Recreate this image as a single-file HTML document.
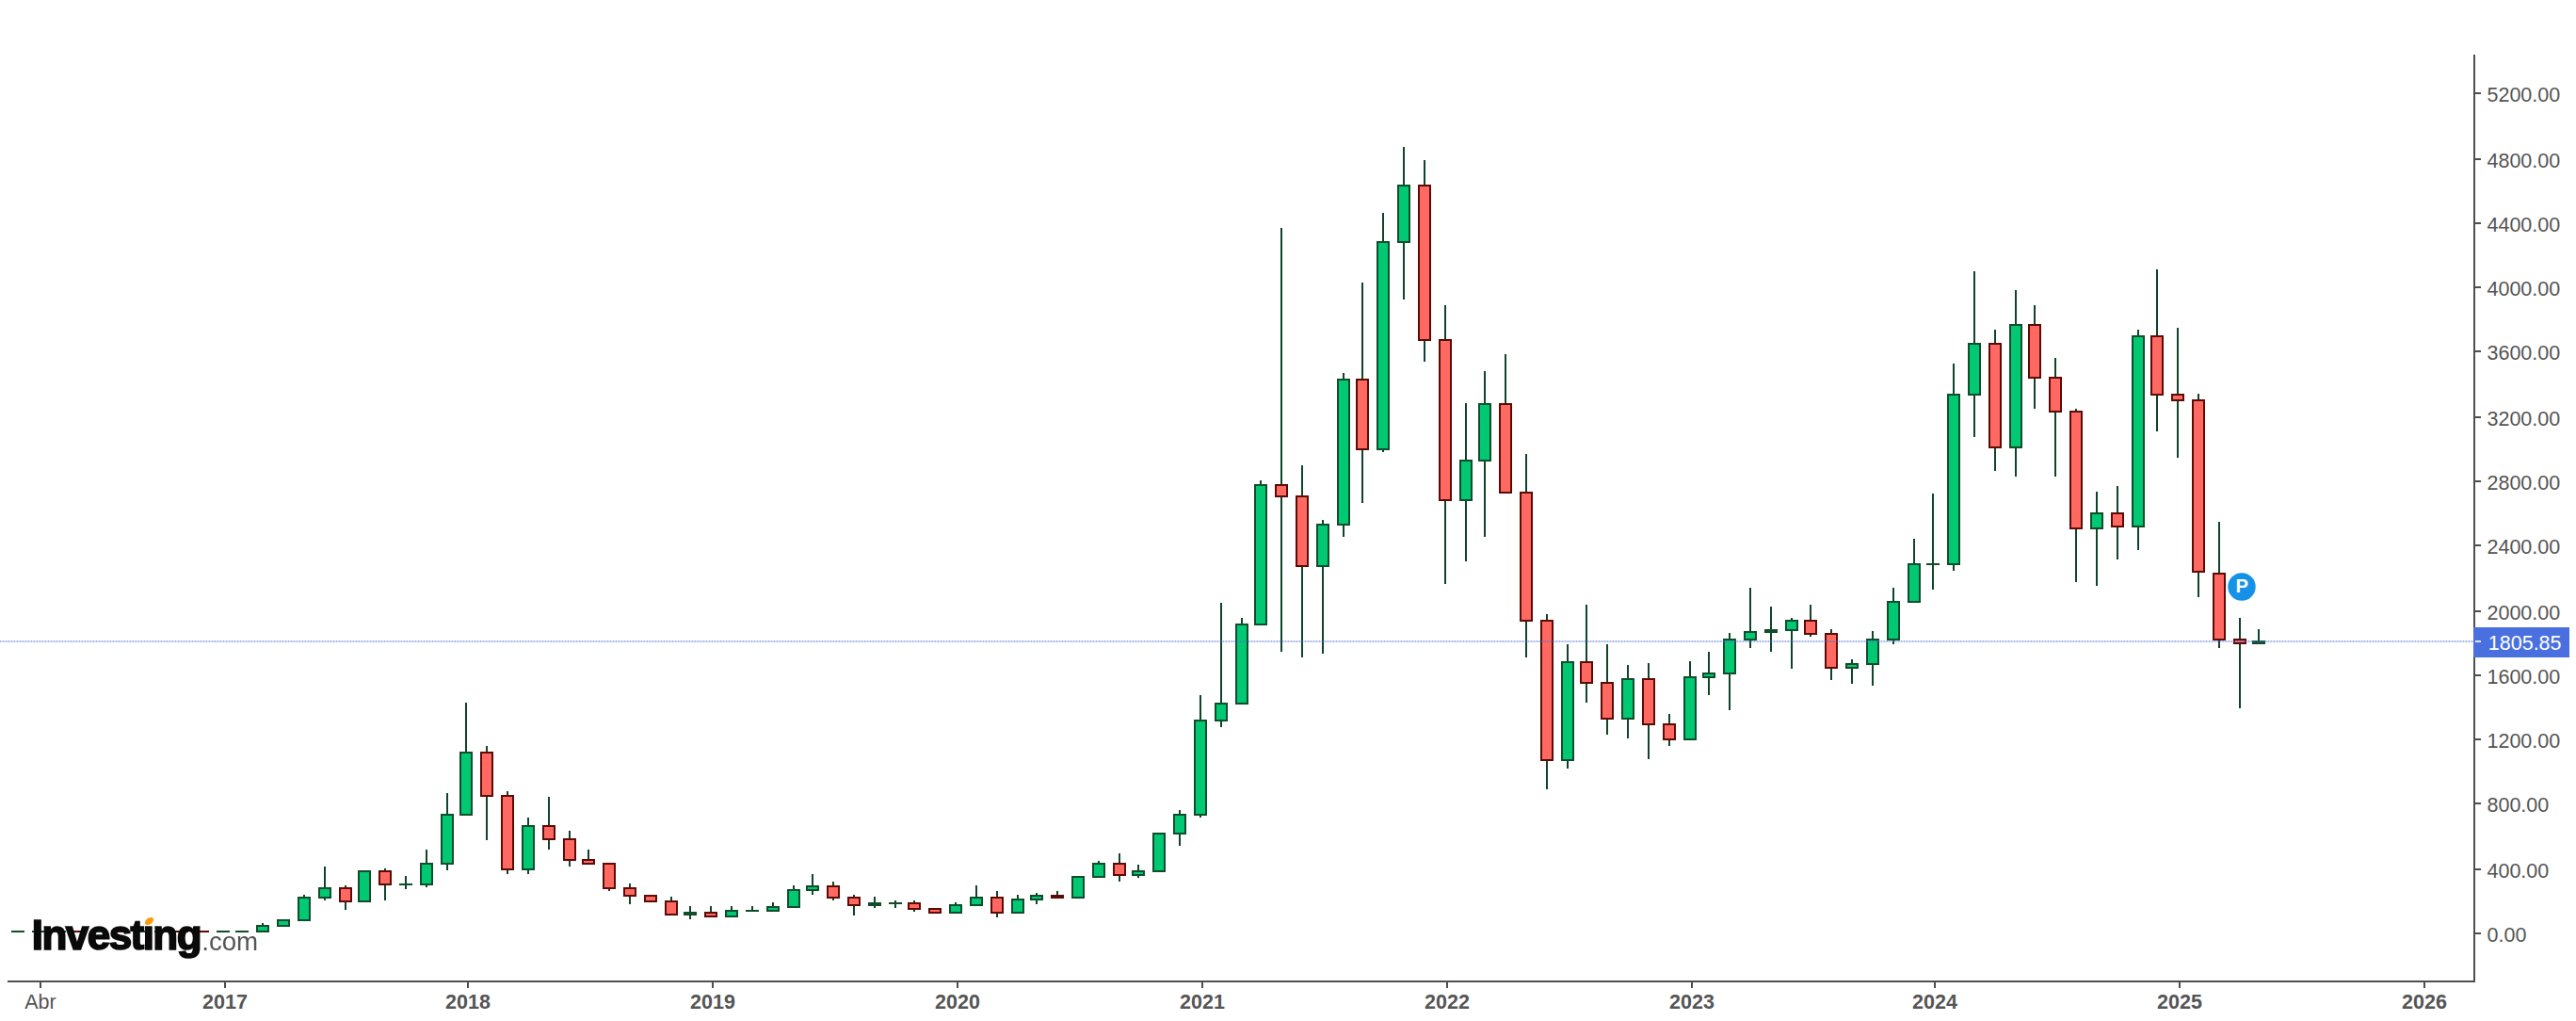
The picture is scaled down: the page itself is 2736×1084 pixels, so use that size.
<!DOCTYPE html>
<html lang="es"><head><meta charset="utf-8"><title>Chart</title>
<style>
html,body{margin:0;padding:0;background:#fff;}
body{width:2736px;height:1084px;overflow:hidden;position:relative;}
svg{position:absolute;left:0;top:0;display:block}
.lbl text{font-family:"Liberation Sans",Arial,sans-serif;font-size:21.5px;fill:#555555;}
#logo{position:absolute;left:33.8px;top:971px;transform:scaleX(1.0);transform-origin:0 0;white-space:nowrap;font-family:"Liberation Sans",Arial,sans-serif;line-height:1;filter:blur(0.7px);}
#logo .a{font-weight:bold;font-size:44px;color:#0a0a0a;letter-spacing:-1.55px;-webkit-text-stroke:1.7px #0a0a0a;}
#logo .b{font-size:27.7px;color:#555;letter-spacing:0;margin-left:1.2px;position:relative;top:0.6px}
#dotw{position:absolute;left:151.5px;top:972px;width:13px;height:10px;background:#fff}
#dot{position:absolute;left:153.5px;top:973.8px;width:9px;height:8.2px;background:#ff9a0a;border-radius:70% 25% 70% 25%;filter:blur(0.6px)}
</style></head><body>
<svg width="2736" height="1084" viewBox="0 0 2736 1084" shape-rendering="crispEdges">
<rect width="2736" height="1084" fill="#ffffff"/>
<g id="candles">
<rect x="12" y="988" width="14" height="2" fill="#0f4d2b"/>
<rect x="34" y="988" width="14" height="2" fill="#0f4d2b"/>
<rect x="56" y="988" width="14" height="2" fill="#0f4d2b"/>
<rect x="78" y="988" width="14" height="2" fill="#5c0b06"/>
<rect x="100" y="988" width="14" height="2" fill="#0f4d2b"/>
<rect x="122" y="988" width="14" height="2" fill="#5c0b06"/>
<rect x="142" y="988" width="14" height="2" fill="#0f4d2b"/>
<rect x="164" y="988" width="14" height="2" fill="#0f4d2b"/>
<rect x="186" y="988" width="14" height="2" fill="#5c0b06"/>
<rect x="208" y="988" width="14" height="2" fill="#5c0b06"/>
<rect x="230" y="988" width="14" height="2" fill="#0f4d2b"/>
<rect x="250" y="988" width="14" height="2" fill="#0f4d2b"/>
<rect x="278" y="980" width="2" height="10" fill="#10442a"/>
<rect x="272" y="982" width="14" height="8" fill="#0f4d2b"/>
<rect x="274" y="984" width="10" height="4" fill="#00c873"/>
<rect x="294" y="976" width="14" height="8" fill="#0f4d2b"/>
<rect x="296" y="978" width="10" height="4" fill="#00c873"/>
<rect x="322" y="950" width="2" height="28" fill="#10442a"/>
<rect x="316" y="952" width="14" height="26" fill="#0f4d2b"/>
<rect x="318" y="954" width="10" height="22" fill="#00c873"/>
<rect x="344" y="920" width="2" height="36" fill="#10442a"/>
<rect x="338" y="942" width="14" height="12" fill="#0f4d2b"/>
<rect x="340" y="944" width="10" height="8" fill="#00c873"/>
<rect x="366" y="940" width="2" height="26" fill="#10442a"/>
<rect x="360" y="942" width="14" height="16" fill="#5c0b06"/>
<rect x="362" y="944" width="10" height="12" fill="#ff6961"/>
<rect x="380" y="924" width="14" height="34" fill="#0f4d2b"/>
<rect x="382" y="926" width="10" height="30" fill="#00c873"/>
<rect x="408" y="922" width="2" height="34" fill="#10442a"/>
<rect x="402" y="924" width="14" height="16" fill="#5c0b06"/>
<rect x="404" y="926" width="10" height="12" fill="#ff6961"/>
<rect x="430" y="930" width="2" height="14" fill="#10442a"/>
<rect x="424" y="938" width="14" height="2" fill="#0f4d2b"/>
<rect x="452" y="902" width="2" height="40" fill="#10442a"/>
<rect x="446" y="916" width="14" height="24" fill="#0f4d2b"/>
<rect x="448" y="918" width="10" height="20" fill="#00c873"/>
<rect x="474" y="842" width="2" height="82" fill="#10442a"/>
<rect x="468" y="864" width="14" height="54" fill="#0f4d2b"/>
<rect x="470" y="866" width="10" height="50" fill="#00c873"/>
<rect x="494" y="746" width="2" height="120" fill="#10442a"/>
<rect x="488" y="798" width="14" height="68" fill="#0f4d2b"/>
<rect x="490" y="800" width="10" height="64" fill="#00c873"/>
<rect x="516" y="792" width="2" height="100" fill="#10442a"/>
<rect x="510" y="798" width="14" height="48" fill="#5c0b06"/>
<rect x="512" y="800" width="10" height="44" fill="#ff6961"/>
<rect x="538" y="840" width="2" height="88" fill="#10442a"/>
<rect x="532" y="844" width="14" height="80" fill="#5c0b06"/>
<rect x="534" y="846" width="10" height="76" fill="#ff6961"/>
<rect x="560" y="868" width="2" height="60" fill="#10442a"/>
<rect x="554" y="876" width="14" height="48" fill="#0f4d2b"/>
<rect x="556" y="878" width="10" height="44" fill="#00c873"/>
<rect x="582" y="846" width="2" height="56" fill="#10442a"/>
<rect x="576" y="876" width="14" height="16" fill="#5c0b06"/>
<rect x="578" y="878" width="10" height="12" fill="#ff6961"/>
<rect x="604" y="882" width="2" height="38" fill="#10442a"/>
<rect x="598" y="890" width="14" height="24" fill="#5c0b06"/>
<rect x="600" y="892" width="10" height="20" fill="#ff6961"/>
<rect x="624" y="902" width="2" height="16" fill="#10442a"/>
<rect x="618" y="912" width="14" height="6" fill="#5c0b06"/>
<rect x="620" y="914" width="10" height="2" fill="#ff6961"/>
<rect x="646" y="916" width="2" height="30" fill="#10442a"/>
<rect x="640" y="916" width="14" height="28" fill="#5c0b06"/>
<rect x="642" y="918" width="10" height="24" fill="#ff6961"/>
<rect x="668" y="938" width="2" height="22" fill="#10442a"/>
<rect x="662" y="942" width="14" height="10" fill="#5c0b06"/>
<rect x="664" y="944" width="10" height="6" fill="#ff6961"/>
<rect x="684" y="950" width="14" height="8" fill="#5c0b06"/>
<rect x="686" y="952" width="10" height="4" fill="#ff6961"/>
<rect x="712" y="952" width="2" height="20" fill="#10442a"/>
<rect x="706" y="956" width="14" height="16" fill="#5c0b06"/>
<rect x="708" y="958" width="10" height="12" fill="#ff6961"/>
<rect x="732" y="962" width="2" height="14" fill="#10442a"/>
<rect x="726" y="968" width="14" height="4" fill="#0f4d2b"/>
<rect x="754" y="962" width="2" height="12" fill="#10442a"/>
<rect x="748" y="968" width="14" height="6" fill="#5c0b06"/>
<rect x="750" y="970" width="10" height="2" fill="#ff6961"/>
<rect x="776" y="962" width="2" height="12" fill="#10442a"/>
<rect x="770" y="966" width="14" height="8" fill="#0f4d2b"/>
<rect x="772" y="968" width="10" height="4" fill="#00c873"/>
<rect x="798" y="962" width="2" height="6" fill="#10442a"/>
<rect x="792" y="966" width="14" height="2" fill="#0f4d2b"/>
<rect x="820" y="958" width="2" height="10" fill="#10442a"/>
<rect x="814" y="962" width="14" height="6" fill="#0f4d2b"/>
<rect x="816" y="964" width="10" height="2" fill="#00c873"/>
<rect x="842" y="940" width="2" height="24" fill="#10442a"/>
<rect x="836" y="944" width="14" height="20" fill="#0f4d2b"/>
<rect x="838" y="946" width="10" height="16" fill="#00c873"/>
<rect x="862" y="928" width="2" height="22" fill="#10442a"/>
<rect x="856" y="940" width="14" height="6" fill="#0f4d2b"/>
<rect x="858" y="942" width="10" height="2" fill="#00c873"/>
<rect x="884" y="936" width="2" height="20" fill="#10442a"/>
<rect x="878" y="940" width="14" height="14" fill="#5c0b06"/>
<rect x="880" y="942" width="10" height="10" fill="#ff6961"/>
<rect x="906" y="950" width="2" height="22" fill="#10442a"/>
<rect x="900" y="952" width="14" height="10" fill="#5c0b06"/>
<rect x="902" y="954" width="10" height="6" fill="#ff6961"/>
<rect x="928" y="952" width="2" height="12" fill="#10442a"/>
<rect x="922" y="958" width="14" height="4" fill="#0f4d2b"/>
<rect x="950" y="956" width="2" height="8" fill="#10442a"/>
<rect x="944" y="958" width="14" height="2" fill="#0f4d2b"/>
<rect x="970" y="956" width="2" height="12" fill="#10442a"/>
<rect x="964" y="958" width="14" height="8" fill="#5c0b06"/>
<rect x="966" y="960" width="10" height="4" fill="#ff6961"/>
<rect x="986" y="964" width="14" height="6" fill="#5c0b06"/>
<rect x="988" y="966" width="10" height="2" fill="#ff6961"/>
<rect x="1014" y="958" width="2" height="12" fill="#10442a"/>
<rect x="1008" y="960" width="14" height="10" fill="#0f4d2b"/>
<rect x="1010" y="962" width="10" height="6" fill="#00c873"/>
<rect x="1036" y="940" width="2" height="22" fill="#10442a"/>
<rect x="1030" y="952" width="14" height="10" fill="#0f4d2b"/>
<rect x="1032" y="954" width="10" height="6" fill="#00c873"/>
<rect x="1058" y="946" width="2" height="28" fill="#10442a"/>
<rect x="1052" y="952" width="14" height="18" fill="#5c0b06"/>
<rect x="1054" y="954" width="10" height="14" fill="#ff6961"/>
<rect x="1080" y="950" width="2" height="20" fill="#10442a"/>
<rect x="1074" y="954" width="14" height="16" fill="#0f4d2b"/>
<rect x="1076" y="956" width="10" height="12" fill="#00c873"/>
<rect x="1100" y="948" width="2" height="12" fill="#10442a"/>
<rect x="1094" y="950" width="14" height="6" fill="#0f4d2b"/>
<rect x="1096" y="952" width="10" height="2" fill="#00c873"/>
<rect x="1122" y="946" width="2" height="8" fill="#10442a"/>
<rect x="1116" y="950" width="14" height="4" fill="#5c0b06"/>
<rect x="1138" y="930" width="14" height="24" fill="#0f4d2b"/>
<rect x="1140" y="932" width="10" height="20" fill="#00c873"/>
<rect x="1166" y="914" width="2" height="18" fill="#10442a"/>
<rect x="1160" y="916" width="14" height="16" fill="#0f4d2b"/>
<rect x="1162" y="918" width="10" height="12" fill="#00c873"/>
<rect x="1188" y="906" width="2" height="30" fill="#10442a"/>
<rect x="1182" y="916" width="14" height="14" fill="#5c0b06"/>
<rect x="1184" y="918" width="10" height="10" fill="#ff6961"/>
<rect x="1208" y="918" width="2" height="14" fill="#10442a"/>
<rect x="1202" y="924" width="14" height="6" fill="#0f4d2b"/>
<rect x="1204" y="926" width="10" height="2" fill="#00c873"/>
<rect x="1224" y="884" width="14" height="42" fill="#0f4d2b"/>
<rect x="1226" y="886" width="10" height="38" fill="#00c873"/>
<rect x="1252" y="860" width="2" height="38" fill="#10442a"/>
<rect x="1246" y="864" width="14" height="22" fill="#0f4d2b"/>
<rect x="1248" y="866" width="10" height="18" fill="#00c873"/>
<rect x="1274" y="738" width="2" height="130" fill="#10442a"/>
<rect x="1268" y="764" width="14" height="102" fill="#0f4d2b"/>
<rect x="1270" y="766" width="10" height="98" fill="#00c873"/>
<rect x="1296" y="640" width="2" height="132" fill="#10442a"/>
<rect x="1290" y="746" width="14" height="20" fill="#0f4d2b"/>
<rect x="1292" y="748" width="10" height="16" fill="#00c873"/>
<rect x="1318" y="656" width="2" height="92" fill="#10442a"/>
<rect x="1312" y="662" width="14" height="86" fill="#0f4d2b"/>
<rect x="1314" y="664" width="10" height="82" fill="#00c873"/>
<rect x="1338" y="510" width="2" height="154" fill="#10442a"/>
<rect x="1332" y="514" width="14" height="150" fill="#0f4d2b"/>
<rect x="1334" y="516" width="10" height="146" fill="#00c873"/>
<rect x="1360" y="242" width="2" height="450" fill="#10442a"/>
<rect x="1354" y="514" width="14" height="14" fill="#5c0b06"/>
<rect x="1356" y="516" width="10" height="10" fill="#ff6961"/>
<rect x="1382" y="494" width="2" height="204" fill="#10442a"/>
<rect x="1376" y="526" width="14" height="76" fill="#5c0b06"/>
<rect x="1378" y="528" width="10" height="72" fill="#ff6961"/>
<rect x="1404" y="552" width="2" height="142" fill="#10442a"/>
<rect x="1398" y="556" width="14" height="46" fill="#0f4d2b"/>
<rect x="1400" y="558" width="10" height="42" fill="#00c873"/>
<rect x="1426" y="396" width="2" height="174" fill="#10442a"/>
<rect x="1420" y="402" width="14" height="156" fill="#0f4d2b"/>
<rect x="1422" y="404" width="10" height="152" fill="#00c873"/>
<rect x="1446" y="300" width="2" height="234" fill="#10442a"/>
<rect x="1440" y="402" width="14" height="76" fill="#5c0b06"/>
<rect x="1442" y="404" width="10" height="72" fill="#ff6961"/>
<rect x="1468" y="226" width="2" height="254" fill="#10442a"/>
<rect x="1462" y="256" width="14" height="222" fill="#0f4d2b"/>
<rect x="1464" y="258" width="10" height="218" fill="#00c873"/>
<rect x="1490" y="156" width="2" height="162" fill="#10442a"/>
<rect x="1484" y="196" width="14" height="62" fill="#0f4d2b"/>
<rect x="1486" y="198" width="10" height="58" fill="#00c873"/>
<rect x="1512" y="170" width="2" height="214" fill="#10442a"/>
<rect x="1506" y="196" width="14" height="166" fill="#5c0b06"/>
<rect x="1508" y="198" width="10" height="162" fill="#ff6961"/>
<rect x="1534" y="324" width="2" height="296" fill="#10442a"/>
<rect x="1528" y="360" width="14" height="172" fill="#5c0b06"/>
<rect x="1530" y="362" width="10" height="168" fill="#ff6961"/>
<rect x="1556" y="428" width="2" height="168" fill="#10442a"/>
<rect x="1550" y="488" width="14" height="44" fill="#0f4d2b"/>
<rect x="1552" y="490" width="10" height="40" fill="#00c873"/>
<rect x="1576" y="394" width="2" height="176" fill="#10442a"/>
<rect x="1570" y="428" width="14" height="62" fill="#0f4d2b"/>
<rect x="1572" y="430" width="10" height="58" fill="#00c873"/>
<rect x="1598" y="376" width="2" height="148" fill="#10442a"/>
<rect x="1592" y="428" width="14" height="96" fill="#5c0b06"/>
<rect x="1594" y="430" width="10" height="92" fill="#ff6961"/>
<rect x="1620" y="482" width="2" height="216" fill="#10442a"/>
<rect x="1614" y="522" width="14" height="138" fill="#5c0b06"/>
<rect x="1616" y="524" width="10" height="134" fill="#ff6961"/>
<rect x="1642" y="652" width="2" height="186" fill="#10442a"/>
<rect x="1636" y="658" width="14" height="150" fill="#5c0b06"/>
<rect x="1638" y="660" width="10" height="146" fill="#ff6961"/>
<rect x="1664" y="684" width="2" height="132" fill="#10442a"/>
<rect x="1658" y="702" width="14" height="106" fill="#0f4d2b"/>
<rect x="1660" y="704" width="10" height="102" fill="#00c873"/>
<rect x="1684" y="642" width="2" height="104" fill="#10442a"/>
<rect x="1678" y="702" width="14" height="24" fill="#5c0b06"/>
<rect x="1680" y="704" width="10" height="20" fill="#ff6961"/>
<rect x="1706" y="684" width="2" height="96" fill="#10442a"/>
<rect x="1700" y="724" width="14" height="40" fill="#5c0b06"/>
<rect x="1702" y="726" width="10" height="36" fill="#ff6961"/>
<rect x="1728" y="706" width="2" height="78" fill="#10442a"/>
<rect x="1722" y="720" width="14" height="44" fill="#0f4d2b"/>
<rect x="1724" y="722" width="10" height="40" fill="#00c873"/>
<rect x="1750" y="704" width="2" height="102" fill="#10442a"/>
<rect x="1744" y="720" width="14" height="50" fill="#5c0b06"/>
<rect x="1746" y="722" width="10" height="46" fill="#ff6961"/>
<rect x="1772" y="758" width="2" height="34" fill="#10442a"/>
<rect x="1766" y="768" width="14" height="18" fill="#5c0b06"/>
<rect x="1768" y="770" width="10" height="14" fill="#ff6961"/>
<rect x="1794" y="702" width="2" height="84" fill="#10442a"/>
<rect x="1788" y="718" width="14" height="68" fill="#0f4d2b"/>
<rect x="1790" y="720" width="10" height="64" fill="#00c873"/>
<rect x="1814" y="692" width="2" height="46" fill="#10442a"/>
<rect x="1808" y="714" width="14" height="6" fill="#0f4d2b"/>
<rect x="1810" y="716" width="10" height="2" fill="#00c873"/>
<rect x="1836" y="672" width="2" height="82" fill="#10442a"/>
<rect x="1830" y="678" width="14" height="38" fill="#0f4d2b"/>
<rect x="1832" y="680" width="10" height="34" fill="#00c873"/>
<rect x="1858" y="624" width="2" height="64" fill="#10442a"/>
<rect x="1852" y="670" width="14" height="10" fill="#0f4d2b"/>
<rect x="1854" y="672" width="10" height="6" fill="#00c873"/>
<rect x="1880" y="644" width="2" height="48" fill="#10442a"/>
<rect x="1874" y="668" width="14" height="4" fill="#0f4d2b"/>
<rect x="1902" y="656" width="2" height="54" fill="#10442a"/>
<rect x="1896" y="658" width="14" height="12" fill="#0f4d2b"/>
<rect x="1898" y="660" width="10" height="8" fill="#00c873"/>
<rect x="1922" y="642" width="2" height="34" fill="#10442a"/>
<rect x="1916" y="658" width="14" height="16" fill="#5c0b06"/>
<rect x="1918" y="660" width="10" height="12" fill="#ff6961"/>
<rect x="1944" y="668" width="2" height="54" fill="#10442a"/>
<rect x="1938" y="672" width="14" height="38" fill="#5c0b06"/>
<rect x="1940" y="674" width="10" height="34" fill="#ff6961"/>
<rect x="1966" y="700" width="2" height="26" fill="#10442a"/>
<rect x="1960" y="704" width="14" height="6" fill="#0f4d2b"/>
<rect x="1962" y="706" width="10" height="2" fill="#00c873"/>
<rect x="1988" y="670" width="2" height="58" fill="#10442a"/>
<rect x="1982" y="678" width="14" height="28" fill="#0f4d2b"/>
<rect x="1984" y="680" width="10" height="24" fill="#00c873"/>
<rect x="2010" y="624" width="2" height="60" fill="#10442a"/>
<rect x="2004" y="638" width="14" height="42" fill="#0f4d2b"/>
<rect x="2006" y="640" width="10" height="38" fill="#00c873"/>
<rect x="2032" y="572" width="2" height="68" fill="#10442a"/>
<rect x="2026" y="598" width="14" height="42" fill="#0f4d2b"/>
<rect x="2028" y="600" width="10" height="38" fill="#00c873"/>
<rect x="2052" y="524" width="2" height="102" fill="#10442a"/>
<rect x="2046" y="598" width="14" height="2" fill="#0f4d2b"/>
<rect x="2074" y="386" width="2" height="220" fill="#10442a"/>
<rect x="2068" y="418" width="14" height="182" fill="#0f4d2b"/>
<rect x="2070" y="420" width="10" height="178" fill="#00c873"/>
<rect x="2096" y="288" width="2" height="176" fill="#10442a"/>
<rect x="2090" y="364" width="14" height="56" fill="#0f4d2b"/>
<rect x="2092" y="366" width="10" height="52" fill="#00c873"/>
<rect x="2118" y="350" width="2" height="150" fill="#10442a"/>
<rect x="2112" y="364" width="14" height="112" fill="#5c0b06"/>
<rect x="2114" y="366" width="10" height="108" fill="#ff6961"/>
<rect x="2140" y="308" width="2" height="198" fill="#10442a"/>
<rect x="2134" y="344" width="14" height="132" fill="#0f4d2b"/>
<rect x="2136" y="346" width="10" height="128" fill="#00c873"/>
<rect x="2160" y="324" width="2" height="110" fill="#10442a"/>
<rect x="2154" y="344" width="14" height="58" fill="#5c0b06"/>
<rect x="2156" y="346" width="10" height="54" fill="#ff6961"/>
<rect x="2182" y="380" width="2" height="126" fill="#10442a"/>
<rect x="2176" y="400" width="14" height="38" fill="#5c0b06"/>
<rect x="2178" y="402" width="10" height="34" fill="#ff6961"/>
<rect x="2204" y="434" width="2" height="184" fill="#10442a"/>
<rect x="2198" y="436" width="14" height="126" fill="#5c0b06"/>
<rect x="2200" y="438" width="10" height="122" fill="#ff6961"/>
<rect x="2226" y="522" width="2" height="100" fill="#10442a"/>
<rect x="2220" y="544" width="14" height="18" fill="#0f4d2b"/>
<rect x="2222" y="546" width="10" height="14" fill="#00c873"/>
<rect x="2248" y="516" width="2" height="78" fill="#10442a"/>
<rect x="2242" y="544" width="14" height="16" fill="#5c0b06"/>
<rect x="2244" y="546" width="10" height="12" fill="#ff6961"/>
<rect x="2270" y="350" width="2" height="234" fill="#10442a"/>
<rect x="2264" y="356" width="14" height="204" fill="#0f4d2b"/>
<rect x="2266" y="358" width="10" height="200" fill="#00c873"/>
<rect x="2290" y="286" width="2" height="172" fill="#10442a"/>
<rect x="2284" y="356" width="14" height="64" fill="#5c0b06"/>
<rect x="2286" y="358" width="10" height="60" fill="#ff6961"/>
<rect x="2312" y="348" width="2" height="138" fill="#10442a"/>
<rect x="2306" y="418" width="14" height="8" fill="#5c0b06"/>
<rect x="2308" y="420" width="10" height="4" fill="#ff6961"/>
<rect x="2334" y="418" width="2" height="216" fill="#10442a"/>
<rect x="2328" y="424" width="14" height="184" fill="#5c0b06"/>
<rect x="2330" y="426" width="10" height="180" fill="#ff6961"/>
<rect x="2356" y="554" width="2" height="134" fill="#10442a"/>
<rect x="2350" y="608" width="14" height="72" fill="#5c0b06"/>
<rect x="2352" y="610" width="10" height="68" fill="#ff6961"/>
<rect x="2378" y="656" width="2" height="96" fill="#10442a"/>
<rect x="2372" y="678" width="14" height="6" fill="#5c0b06"/>
<rect x="2374" y="680" width="10" height="2" fill="#ff6961"/>
<rect x="2398" y="668" width="2" height="16" fill="#10442a"/>
<rect x="2392" y="680" width="14" height="4" fill="#0f4d2b"/>
</g>
<g shape-rendering="auto"><rect x="0" y="680" width="2627" height="2" fill="#5b82f0" fill-opacity="0.26"/>
<line x1="-0.15" y1="681" x2="2627" y2="681" stroke="#3b4a9a" stroke-opacity="0.27" stroke-width="2" stroke-dasharray="1.2 1.8"/></g>
<g id="axes">
<rect x="2627" y="58" width="2" height="985" fill="#4f4f4f"/>
<rect x="8" y="1041" width="2621" height="2" fill="#4f4f4f"/>
<rect x="2629" y="990.0" width="6" height="2" fill="#4f4f4f"/>
<rect x="2629" y="922.0" width="6" height="2" fill="#4f4f4f"/>
<rect x="2629" y="852.0" width="6" height="2" fill="#4f4f4f"/>
<rect x="2629" y="784.0" width="6" height="2" fill="#4f4f4f"/>
<rect x="2629" y="716.0" width="6" height="2" fill="#4f4f4f"/>
<rect x="2629" y="648.0" width="6" height="2" fill="#4f4f4f"/>
<rect x="2629" y="578.0" width="6" height="2" fill="#4f4f4f"/>
<rect x="2629" y="510.0" width="6" height="2" fill="#4f4f4f"/>
<rect x="2629" y="442.0" width="6" height="2" fill="#4f4f4f"/>
<rect x="2629" y="372.0" width="6" height="2" fill="#4f4f4f"/>
<rect x="2629" y="304.0" width="6" height="2" fill="#4f4f4f"/>
<rect x="2629" y="236.0" width="6" height="2" fill="#4f4f4f"/>
<rect x="2629" y="168.0" width="6" height="2" fill="#4f4f4f"/>
<rect x="2629" y="98.0" width="6" height="2" fill="#4f4f4f"/>
<rect x="42" y="1043" width="2" height="6" fill="#4f4f4f"/>
<rect x="238" y="1043" width="2" height="6" fill="#4f4f4f"/>
<rect x="496" y="1043" width="2" height="6" fill="#4f4f4f"/>
<rect x="756" y="1043" width="2" height="6" fill="#4f4f4f"/>
<rect x="1016" y="1043" width="2" height="6" fill="#4f4f4f"/>
<rect x="1276" y="1043" width="2" height="6" fill="#4f4f4f"/>
<rect x="1536" y="1043" width="2" height="6" fill="#4f4f4f"/>
<rect x="1796" y="1043" width="2" height="6" fill="#4f4f4f"/>
<rect x="2054" y="1043" width="2" height="6" fill="#4f4f4f"/>
<rect x="2314" y="1043" width="2" height="6" fill="#4f4f4f"/>
<rect x="2574" y="1043" width="2" height="6" fill="#4f4f4f"/>
</g>
<rect x="2627" y="666" width="102" height="32" fill="#4a70e0"/>
<rect x="2629" y="680" width="6" height="2" fill="#dfe7fb"/>
<g class="lbl" shape-rendering="auto">
<text x="2641.5" y="999.7">0.00</text>
<text x="2641.5" y="931.7">400.00</text>
<text x="2641.5" y="861.7">800.00</text>
<text x="2641.5" y="793.7">1200.00</text>
<text x="2641.5" y="725.7">1600.00</text>
<text x="2641.5" y="657.7">2000.00</text>
<text x="2641.5" y="587.7">2400.00</text>
<text x="2641.5" y="519.7">2800.00</text>
<text x="2641.5" y="451.7">3200.00</text>
<text x="2641.5" y="381.7">3600.00</text>
<text x="2641.5" y="313.7">4000.00</text>
<text x="2641.5" y="245.7">4400.00</text>
<text x="2641.5" y="177.7">4800.00</text>
<text x="2641.5" y="107.7">5200.00</text>
<text x="43" y="1071" text-anchor="middle">Abr</text>
<text x="239" y="1071" text-anchor="middle" font-weight="bold">2017</text>
<text x="497" y="1071" text-anchor="middle" font-weight="bold">2018</text>
<text x="757" y="1071" text-anchor="middle" font-weight="bold">2019</text>
<text x="1017" y="1071" text-anchor="middle" font-weight="bold">2020</text>
<text x="1277" y="1071" text-anchor="middle" font-weight="bold">2021</text>
<text x="1537" y="1071" text-anchor="middle" font-weight="bold">2022</text>
<text x="1797" y="1071" text-anchor="middle" font-weight="bold">2023</text>
<text x="2055" y="1071" text-anchor="middle" font-weight="bold">2024</text>
<text x="2315" y="1071" text-anchor="middle" font-weight="bold">2025</text>
<text x="2575" y="1071" text-anchor="middle" font-weight="bold">2026</text>
<text x="2642.8" y="689.5" style="fill:#ffffff">1805.85</text>
</g>
<g shape-rendering="auto">
<circle cx="2381" cy="623" r="14.7" fill="#1592e8"/>
<text x="2381.3" y="628.9" text-anchor="middle" font-family="Liberation Sans, Arial, sans-serif" font-weight="bold" font-size="20.3" fill="#ffffff">P</text>
</g>
</svg>
<div id="logo"><span class="a">Investing</span><span class="b">.com</span></div>

<div id="dotw"></div><div id="dot"></div>
</body></html>
